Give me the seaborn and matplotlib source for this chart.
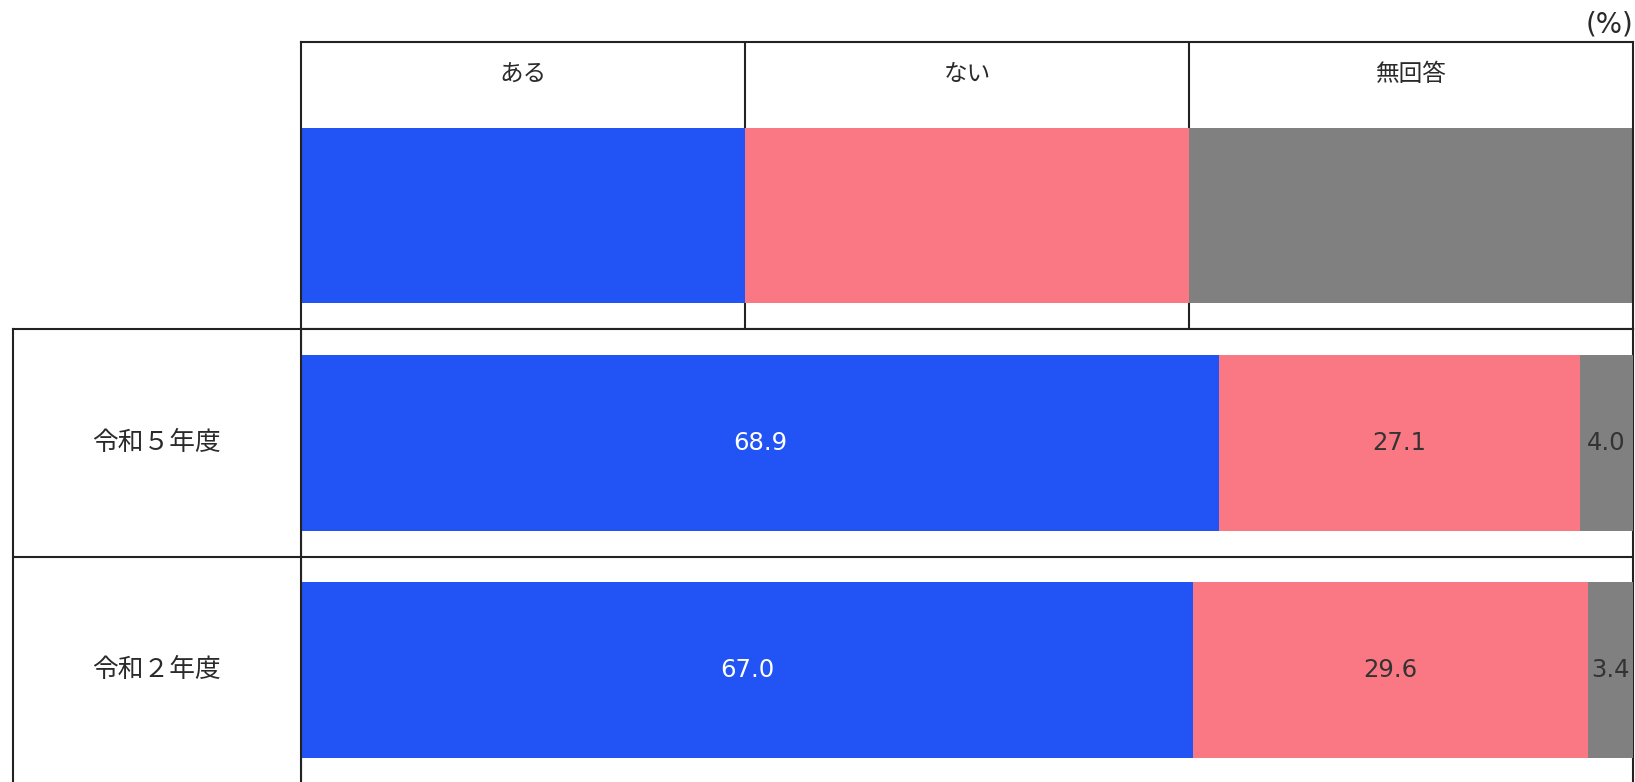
import seaborn as sns
import matplotlib.pyplot as plt
import numpy as np
import pandas as pd

sns.set_theme(style="white")
plt.rcParams['font.family'] = ['Noto Sans CJK JP', 'DejaVu Sans']

# data
years = ['令和５年度', '令和２年度']
answers = ['ある', 'ない', '無回答']
aru = [68.9, 67.0]
nai = [27.1, 29.6]
mukaito = [4.0, 3.4]
colors = ['#2253F4', '#FA7883', '#808080']
text_colors = ['white', '#333333', '#333333']

W, H = 1635, 782
fig = plt.figure(figsize=(W / 100, H / 100), dpi=100)


def px_axes(left, top, right, bottom):
    return fig.add_axes([left / W, 1 - bottom / H, (right - left) / W, (bottom - top) / H])


x0, x1 = 301, 1633
top, mid, row_h = 41.7, 329.5, 227.3
lw = 1.5
line_col = '#222222'
num_font = ['DejaVu Sans']

# header / legend block
hax = px_axes(x0, top, x1, mid)
leg = pd.DataFrame({'answer': answers, 'v': [1, 1, 1]})
sns.barplot(data=leg, x='answer', y='v', hue='answer', palette=colors, width=1.0,
            saturation=1, linewidth=0, legend=False, ax=hax, zorder=2)
for xv in [0.5, 1.5]:
    hax.axvline(xv, color=line_col, lw=lw, zorder=1)
hax.set_xlim(-0.5, 2.5)
hax.set_ylim(-(mid - 303) / 175, (303 - top) / 175)
for i, a in enumerate(answers):
    hax.text(i, (303 - 75) / 175, a, ha='center', va='center', fontsize=17, color='#2a2a2a')
hax.set_xticks([])
hax.set_yticks([])
hax.set_xlabel('')
hax.set_ylabel('')
for s in hax.spines.values():
    s.set_color(line_col)
    s.set_linewidth(lw)

# data block
ylim = (-0.5 + (H - mid) / row_h, -0.5)
dax = px_axes(x0, mid, x1, H)
df = pd.DataFrame({'year': years, 'aru': aru, 'nai': nai, 'mukaito': mukaito})
df['c1'] = df['aru']
df['c2'] = df['aru'] + df['nai']
df['c3'] = df['c2'] + df['mukaito']
for col, c in zip(['c3', 'c2', 'c1'], colors[::-1]):
    sns.barplot(data=df, x=col, y='year', color=c, orient='h', width=176 / row_h,
                saturation=1, linewidth=0, ax=dax, zorder=3)
for i in range(len(years)):
    starts = [0, df['c1'][i], df['c2'][i]]
    vals = [aru[i], nai[i], mukaito[i]]
    for s0, v, tc in zip(starts, vals, text_colors):
        dax.text(s0 + v / 2, i, f'{v:.1f}', ha='center', va='center',
                 fontsize=17.5, color=tc, zorder=4, family=num_font)
dax.axhline(0.5, color=line_col, lw=lw, zorder=2)
dax.set_xlim(0, 100)
dax.set_ylim(*ylim)
dax.set_xticks([])
dax.set_yticks([])
dax.set_xlabel('')
dax.set_ylabel('')
dax.spines['bottom'].set_visible(False)
for s in ['left', 'top', 'right']:
    dax.spines[s].set_color(line_col)
    dax.spines[s].set_linewidth(lw)

# row labels block
lax = px_axes(12.5, mid, x0, H)
lax.set_ylim(*ylim)
lax.set_xlim(0, 1)
lax.axhline(0.5, color=line_col, lw=lw)
for i, y in enumerate(years):
    lax.text(0.5, i, y, ha='center', va='center', fontsize=18.5, color='#2a2a2a')
lax.set_xticks([])
lax.set_yticks([])
lax.spines['bottom'].set_visible(False)
for s in ['left', 'top', 'right']:
    lax.spines[s].set_color(line_col)
    lax.spines[s].set_linewidth(lw)

fig.text(1633 / W, 1 - 25 / H, '(%)', ha='right', va='center', fontsize=20,
         color='#2a2a2a', family=num_font)

fig.savefig('out.png', dpi=100)
